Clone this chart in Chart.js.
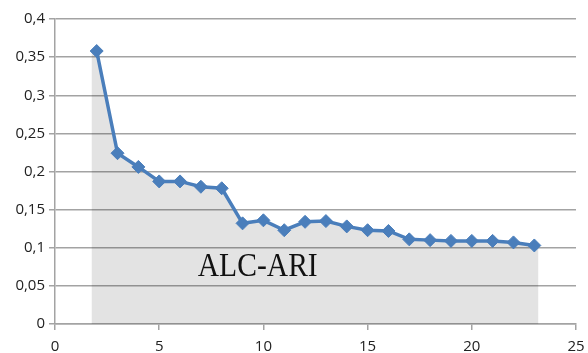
<!DOCTYPE html>
<html>
<head>
<meta charset="utf-8">
<script src="https://cdn.jsdelivr.net/npm/chart.js@4/dist/chart.umd.min.js"></script>
<style>
  html, body { margin: 0; padding: 0; background: #fff; }
  #wrap { width: 588px; height: 353px; }
</style>
</head>
<body>
<div id="wrap"><canvas id="chart"></canvas></div>
<script>
// values
const xs = [2, 3, 4, 5, 6, 7, 8, 9, 10, 11, 12, 13, 14, 15, 16, 17, 18, 19, 20, 21, 22, 23];
const ys = [0.358, 0.224, 0.206, 0.187, 0.187, 0.180, 0.178, 0.132, 0.136, 0.123, 0.134, 0.135,
            0.128, 0.123, 0.122, 0.111, 0.110, 0.109, 0.109, 0.109, 0.107, 0.103];
const areaStart = 1.75;
const areaEnd = 23.2;
const label = 'ALC-ARI';

const linePts = xs.map((x, i) => ({ x: x, y: ys[i] }));
const areaPts = [{ x: areaStart, y: ys[0] }, ...linePts, { x: areaEnd, y: ys[ys.length - 1] }];

const gridGrey = '#a3a3a3';
const blue = '#4a7ebb';

const labelPlugin = {
    id: 'seriesLabel',
    afterDatasetsDraw(chart) {
        const { ctx, scales } = chart;
        const px = scales.x.getPixelForValue(6.85);
        const py = scales.y.getPixelForValue(0.063);
        ctx.save();
        ctx.translate(px, py);
        ctx.scale(0.87, 1);
        ctx.font = '34px "Liberation Serif"';
        ctx.fillStyle = '#111';
        ctx.textBaseline = 'alphabetic';
        ctx.fillText(label, 0, 0);
        ctx.restore();
    }
};

new Chart(document.getElementById('chart'), {
    type: 'line',
    data: {
        datasets: [
            { data: linePts, borderColor: blue, backgroundColor: blue, borderWidth: 3.5,
              pointStyle: 'rectRot', pointRadius: 6.5, pointBorderWidth: 1, tension: 0, fill: false },
            { data: areaPts, borderWidth: 0, pointRadius: 0, tension: 0,
              fill: 'origin', backgroundColor: 'rgba(0,0,0,0.11)' }
        ]
    },
    options: {
        responsive: true,
        maintainAspectRatio: false,
        animation: false,
        layout: { padding: { top: 19, right: 12, left: 0, bottom: 0 } },
        plugins: { legend: { display: false }, tooltip: { enabled: false } },
        scales: {
            x: {
                type: 'linear', min: 0, max: 25,
                ticks: { stepSize: 5, color: '#222', padding: 8,
                         font: { family: 'Open Sans', size: 15 } },
                grid: { drawOnChartArea: false, drawTicks: true, tickLength: 6, color: gridGrey, lineWidth: 1.5 },
                border: { color: gridGrey, width: 1.5 },
                afterFit: (s) => { s.height = 29; s.paddingLeft = 0; s.paddingRight = 0; }
            },
            y: {
                min: 0, max: 0.4,
                ticks: { stepSize: 0.05, color: '#222', padding: 4,
                         font: { family: 'Open Sans', size: 15 },
                         callback: (v) => String(Math.round(v * 100) / 100).replace('.', ',') },
                grid: { drawTicks: true, tickLength: 6, color: gridGrey, lineWidth: 1.5 },
                border: { color: gridGrey, width: 1.5 },
                afterFit: (s) => { s.width = 55; s.paddingTop = 0; s.paddingBottom = 0; }
            }
        }
    },
    plugins: [labelPlugin]
});
</script>
</body>
</html>
